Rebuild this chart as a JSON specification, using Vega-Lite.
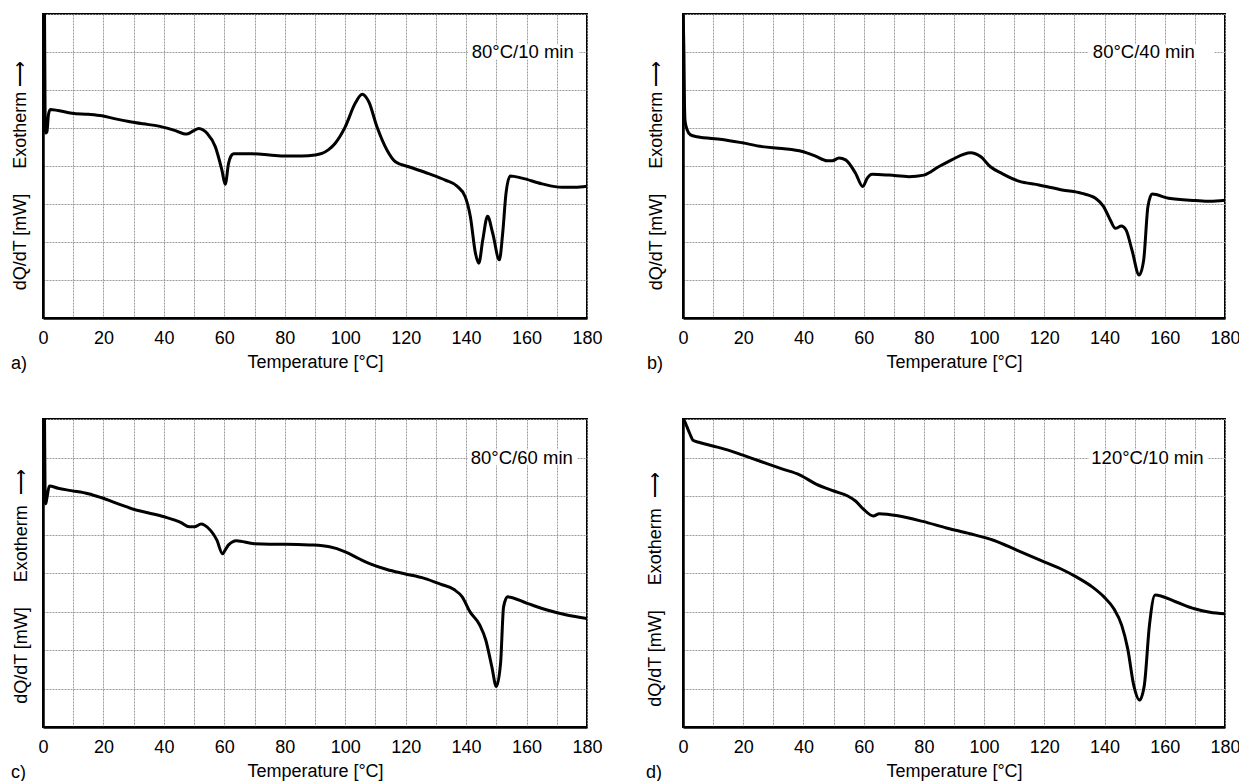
{
  "$schema": "https://vega.github.io/schema/vega-lite/v6.json",
  "autosize": {"type": "pad"},
  "padding": {"left": 9, "top": 13, "right": 5, "bottom": 0},
  "background": "white",
  "config": {
    "font": "Liberation Sans",
    "view": {"stroke": "black", "strokeWidth": 2},
    "axis": {
      "grid": true, "gridColor": "#9a9a9a", "gridWidth": 1, "gridDash": [2, 1],
      "ticks": false, "domain": true, "domainColor": "black", "domainWidth": 2.5,
      "labelFont": "Liberation Sans", "labelFontSize": 18, "labelColor": "black",
      "titleFont": "Liberation Sans", "titleFontSize": 18, "titleFontWeight": "normal", "titleColor": "black",
      "labelOverlap": false, "labelFlush": false
    },
    "title": {"font": "Liberation Sans", "fontSize": 18, "fontWeight": "normal", "color": "black"}
  },
  "datasets": {
    "a": [
      {"T": 0.2, "v": 8.0}, {"T": 0.5, "v": 8.0}, {"T": 0.7, "v": 5.2}, {"T": 0.9, "v": 4.87}, {"T": 1.3, "v": 4.9},
      {"T": 1.8, "v": 5.35}, {"T": 2.4, "v": 5.49}, {"T": 5, "v": 5.46}, {"T": 9.6, "v": 5.39}, {"T": 15, "v": 5.36},
      {"T": 19.5, "v": 5.32}, {"T": 24, "v": 5.24}, {"T": 28.4, "v": 5.17}, {"T": 33, "v": 5.11}, {"T": 38.3, "v": 5.05},
      {"T": 43.8, "v": 4.93}, {"T": 46.5, "v": 4.85}, {"T": 47.6, "v": 4.84}, {"T": 49.9, "v": 4.93}, {"T": 51.5, "v": 4.99},
      {"T": 53, "v": 4.95}, {"T": 54.3, "v": 4.86}, {"T": 57.0, "v": 4.51}, {"T": 59.2, "v": 3.89}, {"T": 60.3, "v": 3.52},
      {"T": 61.4, "v": 4.07}, {"T": 62.2, "v": 4.26}, {"T": 63.1, "v": 4.32}, {"T": 69.2, "v": 4.32}, {"T": 75, "v": 4.29},
      {"T": 80.2, "v": 4.26}, {"T": 85.7, "v": 4.26}, {"T": 90, "v": 4.29}, {"T": 92.3, "v": 4.33}, {"T": 94.5, "v": 4.43},
      {"T": 96.7, "v": 4.6}, {"T": 100, "v": 5.03}, {"T": 103.3, "v": 5.65}, {"T": 105.6, "v": 5.89}, {"T": 107.8, "v": 5.69},
      {"T": 110.5, "v": 5.03}, {"T": 113.8, "v": 4.42}, {"T": 116.6, "v": 4.11}, {"T": 121, "v": 3.98}, {"T": 127.6, "v": 3.8},
      {"T": 133.1, "v": 3.63}, {"T": 137, "v": 3.47}, {"T": 139.7, "v": 3.19}, {"T": 141.4, "v": 2.67}, {"T": 143.1, "v": 1.7},
      {"T": 144.2, "v": 1.44}, {"T": 145.5, "v": 2.05}, {"T": 147.1, "v": 2.68}, {"T": 148.8, "v": 2.23}, {"T": 151, "v": 1.53},
      {"T": 152.1, "v": 2.23}, {"T": 153.2, "v": 3.28}, {"T": 154.6, "v": 3.74}, {"T": 158.5, "v": 3.68}, {"T": 165.1, "v": 3.53},
      {"T": 171.7, "v": 3.44}, {"T": 176, "v": 3.44}, {"T": 180, "v": 3.47}
    ],
    "b": [
      {"T": 0, "v": 8.0}, {"T": 0.3, "v": 7.0}, {"T": 0.5, "v": 5.6}, {"T": 0.7, "v": 5.17}, {"T": 1.4, "v": 4.95},
      {"T": 2.5, "v": 4.82}, {"T": 4.7, "v": 4.77}, {"T": 13, "v": 4.7}, {"T": 19.7, "v": 4.61}, {"T": 26.3, "v": 4.51},
      {"T": 32.9, "v": 4.46}, {"T": 39.6, "v": 4.38}, {"T": 44, "v": 4.26}, {"T": 47.9, "v": 4.14}, {"T": 49.6, "v": 4.14},
      {"T": 51.8, "v": 4.21}, {"T": 54, "v": 4.16}, {"T": 57.3, "v": 3.81}, {"T": 59.7, "v": 3.46}, {"T": 61.2, "v": 3.68},
      {"T": 62.8, "v": 3.78}, {"T": 68.4, "v": 3.76}, {"T": 75, "v": 3.72}, {"T": 80, "v": 3.76}, {"T": 84.9, "v": 3.98},
      {"T": 89.4, "v": 4.17}, {"T": 95.5, "v": 4.35}, {"T": 98.8, "v": 4.25}, {"T": 102.1, "v": 3.98}, {"T": 106, "v": 3.8},
      {"T": 111.5, "v": 3.6}, {"T": 118.2, "v": 3.5}, {"T": 125.9, "v": 3.37}, {"T": 132.5, "v": 3.28}, {"T": 137, "v": 3.15},
      {"T": 139.7, "v": 2.93}, {"T": 141.9, "v": 2.58}, {"T": 143.6, "v": 2.36}, {"T": 145.6, "v": 2.42}, {"T": 147.1, "v": 2.32},
      {"T": 149.1, "v": 1.79}, {"T": 151.5, "v": 1.13}, {"T": 153, "v": 1.53}, {"T": 154.4, "v": 2.93}, {"T": 155.8, "v": 3.26},
      {"T": 161.3, "v": 3.15}, {"T": 170.2, "v": 3.09}, {"T": 175, "v": 3.07}, {"T": 180, "v": 3.1}
    ],
    "c": [
      {"T": 0.2, "v": 8.0}, {"T": 0.5, "v": 8.0}, {"T": 0.7, "v": 5.9}, {"T": 0.9, "v": 5.8}, {"T": 1.3, "v": 5.95},
      {"T": 2.1, "v": 6.26}, {"T": 5, "v": 6.2}, {"T": 9.3, "v": 6.14}, {"T": 15, "v": 6.06}, {"T": 19.2, "v": 5.96},
      {"T": 25.8, "v": 5.77}, {"T": 30.2, "v": 5.65}, {"T": 35, "v": 5.56}, {"T": 40.1, "v": 5.46}, {"T": 45.7, "v": 5.31},
      {"T": 48.4, "v": 5.2}, {"T": 50.1, "v": 5.2}, {"T": 52.3, "v": 5.27}, {"T": 53.5, "v": 5.24}, {"T": 55.5, "v": 5.1},
      {"T": 57.5, "v": 4.86}, {"T": 59.4, "v": 4.5}, {"T": 60.3, "v": 4.6}, {"T": 61.4, "v": 4.73}, {"T": 64, "v": 4.84},
      {"T": 69.9, "v": 4.76}, {"T": 75, "v": 4.75}, {"T": 80.4, "v": 4.75}, {"T": 88.2, "v": 4.73}, {"T": 94.8, "v": 4.68},
      {"T": 100, "v": 4.55}, {"T": 104.6, "v": 4.37}, {"T": 108.5, "v": 4.23}, {"T": 113.8, "v": 4.09}, {"T": 119.6, "v": 3.98},
      {"T": 126.2, "v": 3.86}, {"T": 131.5, "v": 3.71}, {"T": 136, "v": 3.57}, {"T": 138.7, "v": 3.38}, {"T": 141.3, "v": 2.99},
      {"T": 144.5, "v": 2.65}, {"T": 146.5, "v": 2.26}, {"T": 148.5, "v": 1.57}, {"T": 150, "v": 1.05}, {"T": 151.4, "v": 1.65},
      {"T": 152.4, "v": 3.12}, {"T": 153.7, "v": 3.38}, {"T": 160.2, "v": 3.21}, {"T": 166.8, "v": 3.04}, {"T": 173.3, "v": 2.91},
      {"T": 180, "v": 2.82}
    ],
    "d": [
      {"T": 0, "v": 8.0}, {"T": 0.5, "v": 7.95}, {"T": 1.3, "v": 7.8}, {"T": 2.2, "v": 7.63}, {"T": 3.3, "v": 7.45},
      {"T": 5.5, "v": 7.39}, {"T": 9.9, "v": 7.3}, {"T": 15.5, "v": 7.18}, {"T": 19.9, "v": 7.06}, {"T": 25.4, "v": 6.91},
      {"T": 33.1, "v": 6.7}, {"T": 38.7, "v": 6.55}, {"T": 44.2, "v": 6.31}, {"T": 50.1, "v": 6.13}, {"T": 54.7, "v": 6.0},
      {"T": 57.3, "v": 5.87}, {"T": 59.9, "v": 5.66}, {"T": 63.2, "v": 5.48}, {"T": 65.2, "v": 5.54}, {"T": 71.8, "v": 5.48},
      {"T": 79.6, "v": 5.34}, {"T": 87.5, "v": 5.17}, {"T": 95.3, "v": 5.02}, {"T": 103.1, "v": 4.85}, {"T": 111, "v": 4.59},
      {"T": 118.8, "v": 4.33}, {"T": 125.4, "v": 4.11}, {"T": 130.6, "v": 3.9}, {"T": 135.9, "v": 3.64}, {"T": 139.8, "v": 3.38},
      {"T": 143.1, "v": 3.07}, {"T": 145.7, "v": 2.64}, {"T": 147.7, "v": 2.03}, {"T": 149.7, "v": 1.08}, {"T": 151.6, "v": 0.7},
      {"T": 153.2, "v": 1.08}, {"T": 154.9, "v": 2.64}, {"T": 156.8, "v": 3.43}, {"T": 163.4, "v": 3.26}, {"T": 169.9, "v": 3.07},
      {"T": 175, "v": 2.98}, {"T": 180, "v": 2.94}
    ]
  },
  "columns": 2,
  "spacing": {"row": 101, "column": 96},
  "bounds": "flush",
  "concat": [
    {
      "width": 544, "height": 304,
      "title": {"text": "a)", "orient": "bottom", "anchor": "start", "frame": "group", "dx": -32, "offset": -16},
      "layer": [
        {
          "data": {"name": "a"},
          "mark": {"type": "line", "color": "black", "strokeWidth": 3, "interpolate": "monotone", "clip": true},
          "encoding": {
            "x": {"field": "T", "type": "quantitative", "scale": {"domain": [0, 180], "nice": false},
              "axis": {"values": [0,10,20,30,40,50,60,70,80,90,100,110,120,130,140,150,160,170,180], "labelExpr": "datum.value % 20 === 0 ? datum.label : ''", "labelPadding": 11, "title": "Temperature [°C]", "titlePadding": 6}},
            "y": {"field": "v", "type": "quantitative", "scale": {"domain": [0, 8], "nice": false},
              "axis": {"values": [0,1,2,3,4,5,6,7,8], "labels": false, "title": "dQ/dT [mW]\u00a0\u00a0\u00a0\u00a0\u00a0Exotherm\u00a0\u27f6", "titleX": -23, "titleY": 161, "titleAngle": 270, "titleBaseline": "middle", "titleAlign": "center"}}
          }
        },
        {
          "data": {"values": [{"label": "80°C/10 min"}]},
          "mark": {"type": "rect", "color": "white"},
          "encoding": {
            "x": {"datum": 140.6, "type": "quantitative", "axis": {"values": [0,10,20,30,40,50,60,70,80,90,100,110,120,130,140,150,160,170,180], "labelExpr": "datum.value % 20 === 0 ? datum.label : ''", "labelPadding": 11, "title": "Temperature [°C]", "titlePadding": 6}},
            "x2": {"datum": 177.3},
            "y": {"datum": 6.8, "type": "quantitative", "axis": {"values": [0,1,2,3,4,5,6,7,8], "labels": false, "title": "dQ/dT [mW]\u00a0\u00a0\u00a0\u00a0\u00a0Exotherm\u00a0\u27f6", "titleX": -23, "titleY": 161, "titleAngle": 270, "titleBaseline": "middle", "titleAlign": "center"}},
            "y2": {"datum": 7.2}
          }
        },
        {
          "data": {"values": [{"label": "80°C/10 min"}]},
          "mark": {"type": "text", "align": "right", "baseline": "middle", "fontSize": 18.5, "color": "black"},
          "encoding": {
            "x": {"datum": 175.6, "type": "quantitative", "axis": {"values": [0,10,20,30,40,50,60,70,80,90,100,110,120,130,140,150,160,170,180], "labelExpr": "datum.value % 20 === 0 ? datum.label : ''", "labelPadding": 11, "title": "Temperature [°C]", "titlePadding": 6}},
            "y": {"datum": 7, "type": "quantitative", "axis": {"values": [0,1,2,3,4,5,6,7,8], "labels": false, "title": "dQ/dT [mW]\u00a0\u00a0\u00a0\u00a0\u00a0Exotherm\u00a0\u27f6", "titleX": -23, "titleY": 161, "titleAngle": 270, "titleBaseline": "middle", "titleAlign": "center"}},
            "text": {"field": "label"}
          }
        }
      ]
    },
    {
      "width": 542, "height": 304,
      "title": {"text": "b)", "orient": "bottom", "anchor": "start", "frame": "group", "dx": -36, "offset": -16},
      "layer": [
        {
          "data": {"name": "b"},
          "mark": {"type": "line", "color": "black", "strokeWidth": 3, "interpolate": "monotone", "clip": true},
          "encoding": {
            "x": {"field": "T", "type": "quantitative", "scale": {"domain": [0, 180], "nice": false},
              "axis": {"values": [0,10,20,30,40,50,60,70,80,90,100,110,120,130,140,150,160,170,180], "labelExpr": "datum.value % 20 === 0 ? datum.label : ''", "labelPadding": 11, "title": "Temperature [°C]", "titlePadding": 6}},
            "y": {"field": "v", "type": "quantitative", "scale": {"domain": [0, 8], "nice": false},
              "axis": {"values": [0,1,2,3,4,5,6,7,8], "labels": false, "title": "dQ/dT [mW]\u00a0\u00a0\u00a0\u00a0\u00a0Exotherm\u00a0\u27f6", "titleX": -27, "titleY": 161, "titleAngle": 270, "titleBaseline": "middle", "titleAlign": "center"}}
          }
        },
        {
          "data": {"values": [{"label": "80°C/40 min"}]},
          "mark": {"type": "rect", "color": "white"},
          "encoding": {
            "x": {"datum": 134.6, "type": "quantitative", "axis": {"values": [0,10,20,30,40,50,60,70,80,90,100,110,120,130,140,150,160,170,180], "labelExpr": "datum.value % 20 === 0 ? datum.label : ''", "labelPadding": 11, "title": "Temperature [°C]", "titlePadding": 6}},
            "x2": {"datum": 176.5},
            "y": {"datum": 6.8, "type": "quantitative", "axis": {"values": [0,1,2,3,4,5,6,7,8], "labels": false, "title": "dQ/dT [mW]\u00a0\u00a0\u00a0\u00a0\u00a0Exotherm\u00a0\u27f6", "titleX": -27, "titleY": 161, "titleAngle": 270, "titleBaseline": "middle", "titleAlign": "center"}},
            "y2": {"datum": 7.2}
          }
        },
        {
          "data": {"values": [{"label": "80°C/40 min"}]},
          "mark": {"type": "text", "align": "right", "baseline": "middle", "fontSize": 18.5, "color": "black"},
          "encoding": {
            "x": {"datum": 170, "type": "quantitative", "axis": {"values": [0,10,20,30,40,50,60,70,80,90,100,110,120,130,140,150,160,170,180], "labelExpr": "datum.value % 20 === 0 ? datum.label : ''", "labelPadding": 11, "title": "Temperature [°C]", "titlePadding": 6}},
            "y": {"datum": 7, "type": "quantitative", "axis": {"values": [0,1,2,3,4,5,6,7,8], "labels": false, "title": "dQ/dT [mW]\u00a0\u00a0\u00a0\u00a0\u00a0Exotherm\u00a0\u27f6", "titleX": -27, "titleY": 161, "titleAngle": 270, "titleBaseline": "middle", "titleAlign": "center"}},
            "text": {"field": "label"}
          }
        }
      ]
    },
    {
      "width": 544, "height": 308,
      "title": {"text": "c)", "orient": "bottom", "anchor": "start", "frame": "group", "dx": -32, "offset": -16},
      "layer": [
        {
          "data": {"name": "c"},
          "mark": {"type": "line", "color": "black", "strokeWidth": 3, "interpolate": "monotone", "clip": true},
          "encoding": {
            "x": {"field": "T", "type": "quantitative", "scale": {"domain": [0, 180], "nice": false},
              "axis": {"values": [0,10,20,30,40,50,60,70,80,90,100,110,120,130,140,150,160,170,180], "labelExpr": "datum.value % 20 === 0 ? datum.label : ''", "labelPadding": 11, "title": "Temperature [°C]", "titlePadding": 6}},
            "y": {"field": "v", "type": "quantitative", "scale": {"domain": [0, 8], "nice": false},
              "axis": {"values": [0,1,2,3,4,5,6,7,8], "labels": false, "title": "dQ/dT [mW]\u00a0\u00a0\u00a0\u00a0\u00a0Exotherm\u00a0\u00a0\u27f6", "titleX": -22, "titleY": 167, "titleAngle": 270, "titleBaseline": "middle", "titleAlign": "center"}}
          }
        },
        {
          "data": {"values": [{"label": "80°C/60 min"}]},
          "mark": {"type": "rect", "color": "white"},
          "encoding": {
            "x": {"datum": 140.5, "type": "quantitative", "axis": {"values": [0,10,20,30,40,50,60,70,80,90,100,110,120,130,140,150,160,170,180], "labelExpr": "datum.value % 20 === 0 ? datum.label : ''", "labelPadding": 11, "title": "Temperature [°C]", "titlePadding": 6}},
            "x2": {"datum": 176.8},
            "y": {"datum": 6.8, "type": "quantitative", "axis": {"values": [0,1,2,3,4,5,6,7,8], "labels": false, "title": "dQ/dT [mW]\u00a0\u00a0\u00a0\u00a0\u00a0Exotherm\u00a0\u00a0\u27f6", "titleX": -22, "titleY": 167, "titleAngle": 270, "titleBaseline": "middle", "titleAlign": "center"}},
            "y2": {"datum": 7.2}
          }
        },
        {
          "data": {"values": [{"label": "80°C/60 min"}]},
          "mark": {"type": "text", "align": "right", "baseline": "middle", "fontSize": 18.5, "color": "black"},
          "encoding": {
            "x": {"datum": 175.3, "type": "quantitative", "axis": {"values": [0,10,20,30,40,50,60,70,80,90,100,110,120,130,140,150,160,170,180], "labelExpr": "datum.value % 20 === 0 ? datum.label : ''", "labelPadding": 11, "title": "Temperature [°C]", "titlePadding": 6}},
            "y": {"datum": 7, "type": "quantitative", "axis": {"values": [0,1,2,3,4,5,6,7,8], "labels": false, "title": "dQ/dT [mW]\u00a0\u00a0\u00a0\u00a0\u00a0Exotherm\u00a0\u00a0\u27f6", "titleX": -22, "titleY": 167, "titleAngle": 270, "titleBaseline": "middle", "titleAlign": "center"}},
            "text": {"field": "label"}
          }
        }
      ]
    },
    {
      "width": 542, "height": 308,
      "title": {"text": "d)", "orient": "bottom", "anchor": "start", "frame": "group", "dx": -37, "offset": -16},
      "layer": [
        {
          "data": {"name": "d"},
          "mark": {"type": "line", "color": "black", "strokeWidth": 3, "interpolate": "monotone", "clip": true},
          "encoding": {
            "x": {"field": "T", "type": "quantitative", "scale": {"domain": [0, 180], "nice": false},
              "axis": {"values": [0,10,20,30,40,50,60,70,80,90,100,110,120,130,140,150,160,170,180], "labelExpr": "datum.value % 20 === 0 ? datum.label : ''", "labelPadding": 11, "title": "Temperature [°C]", "titlePadding": 6}},
            "y": {"field": "v", "type": "quantitative", "scale": {"domain": [0, 8], "nice": false},
              "axis": {"values": [0,1,2,3,4,5,6,7,8], "labels": false, "title": "dQ/dT [mW]\u00a0\u00a0\u00a0\u00a0\u00a0Exotherm\u00a0\u00a0\u27f6", "titleX": -28, "titleY": 170, "titleAngle": 270, "titleBaseline": "middle", "titleAlign": "center"}}
          }
        },
        {
          "data": {"values": [{"label": "120°C/10 min"}]},
          "mark": {"type": "rect", "color": "white"},
          "encoding": {
            "x": {"datum": 134.8, "type": "quantitative", "axis": {"values": [0,10,20,30,40,50,60,70,80,90,100,110,120,130,140,150,160,170,180], "labelExpr": "datum.value % 20 === 0 ? datum.label : ''", "labelPadding": 11, "title": "Temperature [°C]", "titlePadding": 6}},
            "x2": {"datum": 174.2},
            "y": {"datum": 6.8, "type": "quantitative", "axis": {"values": [0,1,2,3,4,5,6,7,8], "labels": false, "title": "dQ/dT [mW]\u00a0\u00a0\u00a0\u00a0\u00a0Exotherm\u00a0\u00a0\u27f6", "titleX": -28, "titleY": 170, "titleAngle": 270, "titleBaseline": "middle", "titleAlign": "center"}},
            "y2": {"datum": 7.2}
          }
        },
        {
          "data": {"values": [{"label": "120°C/10 min"}]},
          "mark": {"type": "text", "align": "right", "baseline": "middle", "fontSize": 18.5, "color": "black"},
          "encoding": {
            "x": {"datum": 172.9, "type": "quantitative", "axis": {"values": [0,10,20,30,40,50,60,70,80,90,100,110,120,130,140,150,160,170,180], "labelExpr": "datum.value % 20 === 0 ? datum.label : ''", "labelPadding": 11, "title": "Temperature [°C]", "titlePadding": 6}},
            "y": {"datum": 7, "type": "quantitative", "axis": {"values": [0,1,2,3,4,5,6,7,8], "labels": false, "title": "dQ/dT [mW]\u00a0\u00a0\u00a0\u00a0\u00a0Exotherm\u00a0\u00a0\u27f6", "titleX": -28, "titleY": 170, "titleAngle": 270, "titleBaseline": "middle", "titleAlign": "center"}},
            "text": {"field": "label"}
          }
        }
      ]
    }
  ]
}
